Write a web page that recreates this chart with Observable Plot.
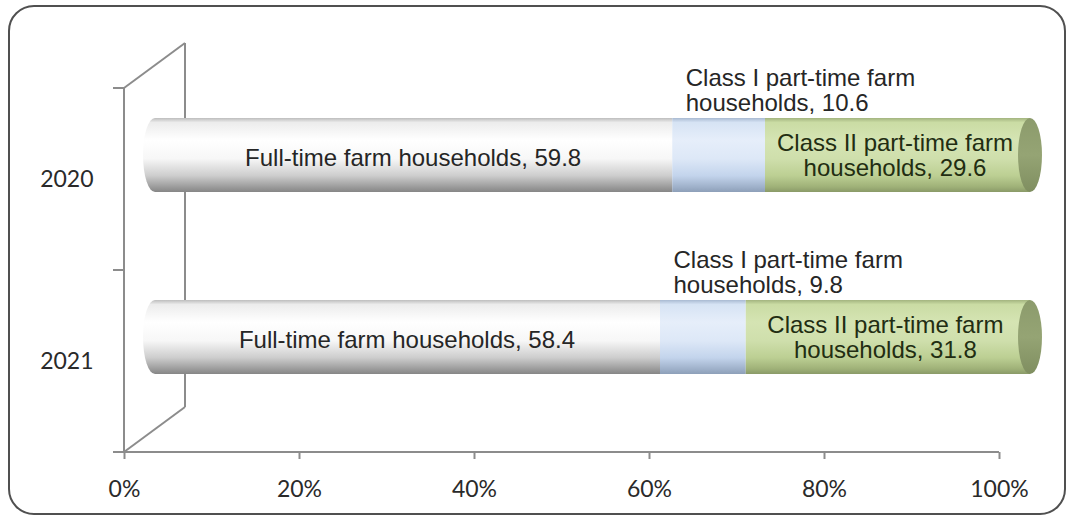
<!DOCTYPE html>
<html>
<head>
<meta charset="utf-8">
<script src="https://cdn.jsdelivr.net/npm/d3@7"></script>
<script src="https://cdn.jsdelivr.net/npm/@observablehq/plot@0.6"></script>
<style>
  html, body { margin: 0; padding: 0; background: #fff; }
  #wrap { position: relative; width: 1072px; height: 519px; overflow: hidden; }
  #border { position: absolute; left: 8px; top: 5px; width: 1058px; height: 510px; box-sizing: border-box;
            border: 2px solid #505050; border-radius: 26px; pointer-events: none; }
</style>
</head>
<body>
<div id="wrap"><div id="border"></div></div>
<script>
const years = ["2020", "2021"];
const categories = [
  "Full-time farm households",
  "Class I part-time farm households",
  "Class II part-time farm households"
];
const values2020 = [59.8, 10.6, 29.6];
const values2021 = [58.4, 9.8, 31.8];
const xTicks = [0, 20, 40, 60, 80, 100];

const series = [values2020, values2021];
const rows = years.flatMap((year, i) => {
  let acc = 0;
  return categories.map((category, j) => {
    const value = series[i][j];
    const r = {year, category, value, x1: acc, x2: acc + value};
    acc += value;
    return r;
  });
});
const byCat = c => rows.filter(d => d.category === c);

const DX = 25, DY = -24, INS = 54;
const labelFont = "'Liberation Sans', Arial, sans-serif";
const axisFont = "Lato, 'Open Sans', sans-serif";
const common = {y: "year", insetTop: INS, insetBottom: INS, dx: DX, dy: DY};

const plot = Plot.plot({
  width: 1072,
  height: 519,
  marginLeft: 124,
  marginRight: 73,
  marginTop: 88,
  marginBottom: 67,
  style: {background: "transparent"},
  x: {domain: [0, 100]},
  y: {domain: years, padding: 0},
  marks: [
    // segments
    Plot.barX(byCat(categories[0]), {...common, x1: "x1", x2: "x2", fill: "url(#gFull)", insetLeft: 6}),
    Plot.barX(byCat(categories[1]), {...common, x1: "x1", x2: "x2", fill: "url(#gC1)"}),
    Plot.barX(byCat(categories[2]), {...common, x1: "x1", x2: "x2", fill: "url(#gC2)", insetRight: -6}),
    // left end of cylinder
    Plot.barX(byCat(categories[0]), {...common, x1: "x1", x2: "x1", fill: "url(#gFull)",
      insetLeft: -6, insetRight: -18, rx: 12, ry: 37}),
    // right end cap
    Plot.barX(byCat(categories[2]), {...common, x1: "x2", x2: "x2", fill: "url(#gCap)",
      insetLeft: -6, insetRight: -18, rx: 12, ry: 37}),
    // labels
    Plot.text(byCat(categories[0]), {x: d => (d.x1 + d.x2) / 2, y: "year",
      text: d => `${d.category}, ${d.value}`, dx: DX + 2, dy: -21,
      fontSize: 24, fontFamily: labelFont, fill: "#262626"}),
    Plot.text(byCat(categories[1]), {x: "x1", y: "year", textAnchor: "start",
      text: d => `${d.category.replace(" households", "\nhouseholds")}, ${d.value}`,
      dx: 38, dy: -89, lineHeight: 1.04,
      fontSize: 24, fontFamily: labelFont, fill: "#262626"}),
    Plot.text(byCat(categories[2]), {x: d => (d.x1 + d.x2) / 2, y: "year",
      text: d => `${d.category.replace(" households", "\nhouseholds")}, ${d.value}`,
      dx: DX, dy: DY, lineHeight: 1.02,
      fontSize: 24, fontFamily: labelFont, fill: "#222d12"}),
    // axes
    Plot.axisY({tickSize: 0, tickPadding: 31, fontSize: 23, fontFamily: axisFont,
      fill: "#2a2a2a", label: null}),
    Plot.axisX({ticks: xTicks, tickFormat: d => d + "%", tickSize: 7, tickPadding: 21,
      stroke: "#8c8c8c", strokeWidth: 2, fontSize: 23, fontFamily: axisFont,
      fill: "#2a2a2a", label: null})
  ]
});

// gradients for the cylinder look
const svg = d3.select(plot);
const defs = svg.insert("defs", ":first-child");
function grad(id, stops) {
  const g = defs.append("linearGradient").attr("id", id)
    .attr("x1", 0).attr("y1", 0).attr("x2", 0).attr("y2", 1);
  stops.forEach(([o, c]) => g.append("stop").attr("offset", o).attr("stop-color", c));
}
grad("gFull", [[0, "#bdbdbd"], [0.06, "#ececec"], [0.3, "#ffffff"], [0.55, "#f7f7f7"], [0.78, "#cdcdcd"], [0.93, "#9c9c9c"], [1, "#868686"]]);
grad("gC1", [[0, "#a9bad2"], [0.06, "#d6e3f4"], [0.3, "#e6eefa"], [0.55, "#dde8f7"], [0.78, "#c3d4ec"], [0.93, "#9fb1ca"], [1, "#8d9fb8"]]);
grad("gC2", [[0, "#a3b47f"], [0.06, "#cadca4"], [0.3, "#d5e4b3"], [0.55, "#cfdfac"], [0.78, "#bccf93"], [0.93, "#9fb178"], [1, "#8a9a68"]]);
grad("gCap", [[0, "#8c9b6c"], [0.5, "#95a474"], [1, "#7f8e60"]]);

// 3-D wall lines and axis lines from the scales
const xs = plot.scale("x"), ys = plot.scale("y");
const x0 = xs.apply(0), x100 = xs.apply(100);
const bw = ys.bandwidth;
const yTop = ys.apply(years[0]);
const yBot = ys.apply(years[years.length - 1]) + bw;
const depthX = 61, depthY = -45;
const walls = svg.insert("g", "defs + *").attr("stroke", "#8c8c8c").attr("stroke-width", 2).attr("fill", "none");
const seg = (a, b, c, d) => walls.append("line").attr("x1", a).attr("y1", b).attr("x2", c).attr("y2", d);
seg(x0, yTop, x0, yBot);
seg(x0 + depthX, yTop + depthY, x0 + depthX, yBot + depthY);
seg(x0, yTop, x0 + depthX, yTop + depthY);
seg(x0, yBot, x0 + depthX, yBot + depthY);
seg(x0, yBot, x100, yBot);
[yTop, yTop + bw, yBot].forEach(y => seg(x0 - 11, y, x0, y));

document.getElementById("wrap").prepend(plot);
</script>
</body>
</html>
